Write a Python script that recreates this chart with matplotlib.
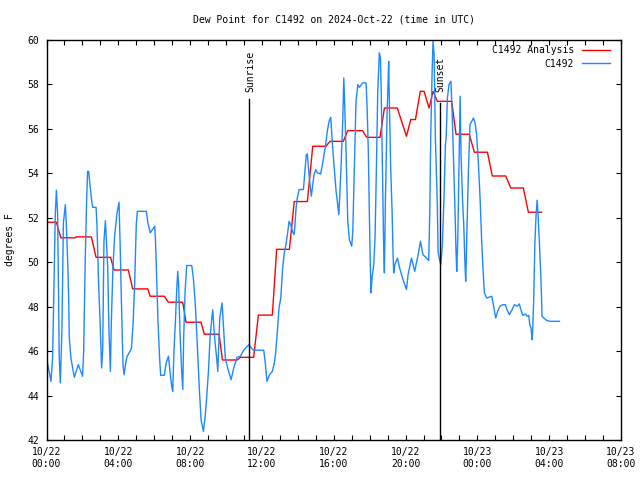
import matplotlib
matplotlib.use("Agg")
import matplotlib.pyplot as plt
import numpy as np

plt.rcParams['font.family'] = ['DejaVu Sans Mono']

# Analysis (hours since 2024-10-22 00:00 UTC, degrees F)
ana_t = [0, 0.55, 0.8, 1.6, 1.65, 2.5, 2.76, 3.57, 3.76, 4.56, 4.8, 5.64, 5.77, 6.56, 6.79,
         7.59, 7.77, 8.61, 8.79, 9.61, 9.8, 10.62, 10.8, 11.54, 11.8, 12.58, 12.82, 13.53,
         13.8, 14.53, 14.83, 15.57, 15.79, 16.53, 16.78, 17.6, 17.84, 18.58, 18.82, 19.54,
         20.05, 20.29, 20.55, 20.82, 21.03, 21.31, 21.53, 21.77, 22.57, 22.81, 23.55, 23.83,
         24.56, 24.83, 25.58, 25.86, 26.56, 26.84, 27.57]
ana_v = [51.8, 51.8, 51.1, 51.1, 51.14, 51.14, 50.22, 50.22, 49.65, 49.65, 48.8, 48.8, 48.47,
         48.47, 48.2, 48.2, 47.3, 47.3, 46.76, 46.76, 45.6, 45.6, 45.72, 45.72, 47.62, 47.62,
         50.58, 50.58, 52.73, 52.73, 55.22, 55.22, 55.44, 55.44, 55.92, 55.92, 55.62, 55.62,
         56.94, 56.94, 55.67, 56.42, 56.42, 57.69, 57.69, 56.94, 57.69, 57.24, 57.24, 55.76,
         55.76, 54.95, 54.95, 53.88, 53.88, 53.34, 53.34, 52.25, 52.25]

# Observations
obs_t = [0.03, 0.25, 0.34, 0.38, 0.49, 0.55, 0.62, 0.68, 0.71, 0.77, 0.81, 0.86, 0.94, 1.05,
         1.10, 1.18, 1.24, 1.27, 1.36, 1.55, 1.77, 2.01, 2.07, 2.16, 2.24, 2.29, 2.35, 2.42,
         2.52, 2.57, 2.76, 2.81, 2.91, 2.98, 3.04, 3.07, 3.13, 3.18,
         3.20, 3.28, 3.33, 3.41, 3.48, 3.56, 3.61, 3.70, 3.80, 3.93, 4.04, 4.11, 4.19, 4.26,
         4.32, 4.41, 4.48, 4.73, 4.82, 4.91, 5.00, 5.06, 5.56, 5.65, 5.78, 5.90, 6.03, 6.08,
         6.16, 6.21, 6.30,
         6.36, 6.56, 6.66, 6.79, 6.88, 6.97, 7.03, 7.10, 7.18, 7.25, 7.31, 7.36, 7.44, 7.53,
         7.59, 7.64, 7.72, 7.81, 8.09, 8.18, 8.29, 8.40, 8.51, 8.61, 8.74, 8.83, 8.92, 9.02,
         9.11, 9.20, 9.26, 9.33, 9.39, 9.48, 9.54,
         9.65, 9.78, 9.87, 9.96, 10.09, 10.28, 10.43, 10.61, 10.80, 10.98, 11.17, 11.28, 11.41,
         11.54, 12.10, 12.19, 12.28, 12.43, 12.58, 12.70,
         12.77, 12.86, 12.95, 13.05, 13.14, 13.23, 13.32, 13.42, 13.51, 13.60, 13.70, 13.79,
         13.84, 13.90, 13.97, 14.07, 14.31, 14.38, 14.47, 14.53, 14.59, 14.68, 14.75, 14.83,
         14.90, 15.00, 15.09, 15.27, 15.37, 15.46, 15.55, 15.64, 15.74, 15.83, 15.89,
         15.94, 16.04, 16.13, 16.22, 16.28, 16.33, 16.41, 16.50, 16.56, 16.61, 16.69, 16.78,
         16.87, 17.00, 17.06, 17.15, 17.24, 17.34, 17.43, 17.61, 17.80, 17.86, 17.93, 17.99,
         18.04, 18.08, 18.13, 18.23, 18.30, 18.38, 18.45, 18.54, 18.60, 18.64, 18.73, 18.78,
         18.82, 18.88, 18.97, 19.06,
         19.08, 19.17, 19.25, 19.30, 19.34, 19.40, 19.55, 19.67, 19.86, 20.05, 20.14, 20.33,
         20.42, 20.51, 20.70, 20.83, 20.97, 21.16, 21.29, 21.35, 21.40, 21.48, 21.53, 21.59,
         21.66, 21.77, 21.81, 21.87, 21.96, 22.05, 22.14, 22.22,
         22.26, 22.33, 22.42, 22.53, 22.61, 22.70, 22.76, 22.81, 22.85, 22.91, 22.98, 23.04,
         23.09, 23.17, 23.24, 23.31, 23.35, 23.43, 23.50, 23.59, 23.78, 23.87, 23.96, 24.06,
         24.15, 24.24, 24.34, 24.39, 24.52, 24.80, 24.89, 25.02, 25.13, 25.26, 25.41,
         25.56, 25.65, 25.78, 25.93, 26.06, 26.21, 26.34, 26.45, 26.53, 26.68, 26.77, 26.86,
         26.92, 26.99, 27.05, 27.08, 27.14, 27.20, 27.27, 27.33, 27.38, 27.46, 27.53, 27.57,
         27.60, 27.70, 27.88, 28.07, 28.57]
obs_v = [45.57, 44.64, 45.69, 47.42, 52.17, 53.24, 52.15, 47.86, 45.69, 44.57, 45.69, 46.97,
         51.77, 52.59, 51.77, 50.04, 48.24, 46.59, 45.69, 44.82, 45.39, 44.87, 45.99, 50.19,
         52.92, 54.09, 54.09, 53.49, 52.74, 52.47, 52.47, 51.70, 48.84, 47.42, 45.99, 45.24,
         46.06, 49.29,
         50.94, 51.87, 51.10, 49.74, 46.89, 45.09, 47.27, 49.74, 51.24, 52.22, 52.70, 50.49,
         47.64, 45.39, 44.94, 45.44, 45.74, 46.12, 47.19, 48.99, 51.69, 52.29, 52.29, 51.77,
         51.32, 51.47, 51.62, 50.79, 48.69, 47.34, 45.69,
         44.91, 44.91, 45.44, 45.77, 45.09, 44.42, 44.19, 45.99, 47.34, 48.69, 49.59, 48.99,
         46.74, 45.09, 44.27, 46.59, 48.69, 49.85, 49.85, 49.29, 48.09, 46.29, 44.34, 42.91,
         42.39, 42.99, 43.89, 45.09, 46.59, 47.42, 47.86, 46.97, 46.37, 45.69, 45.09,
         47.49, 48.17, 46.89, 45.69, 45.24, 44.71, 45.24, 45.72, 45.77, 46.04, 46.21, 46.29,
         46.14, 46.04, 46.04, 45.44, 44.64, 44.94, 45.09, 45.5,
         45.99, 46.89, 47.94, 48.39, 49.59, 50.34, 50.72, 51.24, 51.84, 51.69, 51.39, 51.24,
         51.69, 52.44, 52.89, 53.27, 53.27, 53.94, 54.84, 54.87, 54.24, 53.49, 52.97, 53.49,
         53.94, 54.17, 54.02, 53.97, 54.39, 54.84, 55.29, 55.89, 56.34, 56.52, 55.74,
         55.14, 54.09, 53.19, 52.59, 52.14, 52.89, 54.39, 56.34, 58.29, 57.09, 54.84, 51.84,
         51.02, 50.72, 51.39, 54.39, 57.24, 57.99, 57.87, 58.07, 58.07, 56.94, 54.84, 51.84,
         49.74, 48.62, 49.29, 49.89, 51.10, 54.39, 57.69, 59.42, 59.20, 57.84, 53.19, 50.72,
         49.52, 52.89, 56.64, 59.04,
         58.00, 54.24, 52.29, 50.49, 49.52, 49.89, 50.19, 49.74, 49.21, 48.77, 49.44, 50.19,
         49.89, 49.59, 50.34, 50.94, 50.34, 50.19, 50.07, 52.29, 55.59, 58.59, 59.94, 59.34,
         55.59, 52.59, 50.49, 50.19, 49.89, 50.79, 52.89, 55.29,
         55.59, 57.39, 57.99, 58.14, 56.34, 53.79, 52.14, 50.49, 49.59, 51.10, 54.39, 57.47,
         54.84, 52.89, 51.69, 49.89, 49.14, 51.84, 54.09, 56.19, 56.49, 56.27, 55.74, 54.39,
         52.89, 50.94, 49.29, 48.62, 48.39, 48.47, 48.09, 47.49, 47.79, 48.02, 48.09,
         48.09, 47.86, 47.64, 47.86, 48.09, 48.02, 48.12, 47.79, 47.61, 47.67, 47.57, 47.61,
         47.19, 47.04, 46.51, 46.89, 48.39, 50.79, 52.14, 52.79, 52.14, 50.79, 49.44, 48.54,
         47.57, 47.49, 47.37, 47.34, 47.34]

sunrise_t = 11.3
sunset_t = 21.9
x_ticks = [0, 4, 8, 12, 16, 20, 24, 28, 32]
x_labels = ['10/22\n00:00', '10/22\n04:00', '10/22\n08:00', '10/22\n12:00', '10/22\n16:00',
            '10/22\n20:00', '10/23\n00:00', '10/23\n04:00', '10/23\n08:00']
y_ticks = [42, 44, 46, 48, 50, 52, 54, 56, 58, 60]

fig = plt.figure(figsize=(6.4, 4.8), dpi=100)
ax = fig.add_axes([46.5/640, 1 - 440/480, (621 - 46.5)/640, 400/480])

ax.plot(ana_t, ana_v, color='#ff0000', lw=1.0, label='C1492 Analysis')
ax.plot(obs_t, obs_v, color='#1e88ff', lw=1.0, label='C1492')

ax.plot([sunrise_t, sunrise_t], [42, 57.35], color='black', lw=1.0)
ax.plot([sunset_t, sunset_t], [42, 57.15], color='black', lw=1.0)
ax.text(sunrise_t + 0.08, 57.65, 'Sunrise', rotation=90, ha='center', va='bottom', fontsize=7)
ax.text(sunset_t + 0.05, 57.65, 'Sunset', rotation=90, ha='center', va='bottom', fontsize=7)

ax.set_xlim(0, 32)
ax.set_ylim(42, 60)
ax.set_xticks(x_ticks)
ax.set_xticklabels(x_labels, fontsize=7, linespacing=1.25)
ax.set_xticks(np.arange(0, 33, 1), minor=True)
ax.set_yticks(y_ticks)
ax.set_yticklabels([str(v) for v in y_ticks], fontsize=7)
ax.tick_params(which='both', direction='in', top=True, right=True, length=3.5, width=0.8)
ax.tick_params(axis='x', which='major', pad=5)
ax.tick_params(axis='y', which='major', pad=5)
for s in ax.spines.values():
    s.set_linewidth(1.0)

ax.set_ylabel('degrees F', fontsize=7, labelpad=9)
fig.text(334/640, 1 - 20/480, 'Dew Point for C1492 on 2024-Oct-22 (time in UTC)',
         ha='center', va='center', fontsize=7)

leg = ax.legend(loc='upper right', bbox_to_anchor=((610 - 46.5)/574.5, 1 - 5.5/400),
                markerfirst=False, frameon=False, fontsize=7, handlelength=2.9,
                handletextpad=0.8, labelspacing=0.35, borderpad=0, borderaxespad=0)
for t in leg.get_texts():
    t.set_ha('right')

fig.savefig('out.png', dpi=100)
